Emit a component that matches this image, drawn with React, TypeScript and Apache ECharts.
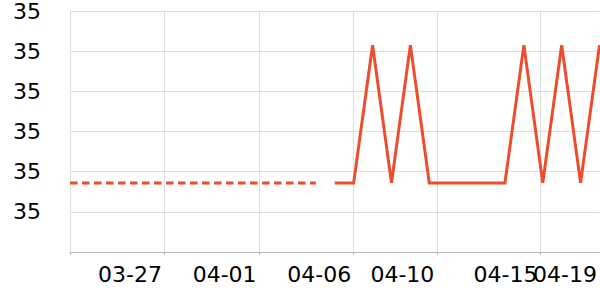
import React, { useEffect, useRef } from "react";
import * as echarts from "echarts";

const year = 2024;
const dayLabels = [
  "03-22", "03-23", "03-24", "03-25", "03-26", "03-27", "03-28", "03-29", "03-30", "03-31",
  "04-01", "04-02", "04-03", "04-04", "04-05", "04-06", "04-07", "04-08", "04-09", "04-10",
  "04-11", "04-12", "04-13", "04-14", "04-15", "04-16", "04-17", "04-18", "04-19",
];
// dashed part (first 14 days)
const dashedValues = [
  34.872, 34.872, 34.872, 34.872, 34.872, 34.872, 34.872,
  34.872, 34.872, 34.872, 34.872, 34.872, 34.872, 34.872,
];
// solid part (last 15 days)
const solidValues = [
  34.872, 34.872, 35.215, 34.872, 35.215, 34.872, 34.872, 34.872,
  34.872, 34.872, 35.215, 34.872, 35.215, 34.872, 35.215,
];
const xTickStamps = [
  "03-22T00:00", "03-27T00:00", "04-01T00:00", "04-06T00:00", "04-10T09:36", "04-15T20:24",
];
const xLabelStamps = [
  "03-27T00:00", "04-01T00:00", "04-06T00:00", "04-10T09:36", "04-15T20:24",
];
const xLastLabelStamps = ["04-19T00:00"];
const yMin = 34.7;
const yMax = 35.3;
const yStep = 0.1;

const ts = (s: string) => new Date(`${year}-${s}`).getTime();
const dayTs = (d: string) => ts(`${d}T00:00`);

export default function App() {
  const ref = useRef<HTMLDivElement>(null);
  useEffect(() => {
    document.body.style.margin = "0";
    const chart = echarts.init(ref.current!, null, { renderer: "svg" });
    const nDashed = dashedValues.length;
    const dashedData = dashedValues.map((v, i) => [dayTs(dayLabels[i]), v]);
    const solidData = solidValues.map((v, i) => [dayTs(dayLabels[nDashed + i]), v]);
    const font = "DejaVu Sans";
    const pad = (n: number) => (n < 10 ? "0" + n : "" + n);
    const fmt = (v: number) => {
      const d = new Date(v);
      return pad(d.getMonth() + 1) + "-" + pad(d.getDate());
    };
    const xMin = dayTs(dayLabels[0]);
    const xMax = dayTs(dayLabels[dayLabels.length - 1]);
    const labelBase = {
      fontSize: 22,
      fontFamily: font,
      color: "#000",
      align: "right",
      margin: 11,
      padding: [0, 2.5, 0, 0],
      hideOverlap: false,
      formatter: fmt,
    };
    chart.setOption({
      animation: false,
      grid: { left: 70, right: 0, top: 10, bottom: 48, containLabel: false },
      xAxis: [
        {
          type: "value",
          position: "bottom",
          scale: true,
          min: xMin,
          max: xMax,
          axisLine: { show: true, lineStyle: { color: "#b5b5b5", width: 1 } },
          axisTick: {
            show: true,
            length: 3,
            lineStyle: { color: "#b5b5b5" },
            customValues: xTickStamps.map(ts),
          },
          splitLine: { show: true, lineStyle: { color: "#dddddd", width: 1 } },
          axisLabel: { ...labelBase, customValues: xLabelStamps.map(ts) },
        },
        {
          type: "value",
          position: "bottom",
          scale: true,
          min: xMin,
          max: xMax,
          axisLine: { show: false },
          axisTick: { show: false },
          splitLine: { show: false },
          axisLabel: { ...labelBase, customValues: xLastLabelStamps.map(ts) },
        },
      ],
      yAxis: {
        type: "value",
        min: yMin,
        max: yMax,
        interval: yStep,
        axisLine: { show: false },
        axisTick: { show: false },
        splitLine: { show: true, lineStyle: { color: "#dddddd", width: 1 } },
        axisLabel: {
          showMinLabel: false,
          fontSize: 22,
          fontFamily: font,
          color: "#000",
          margin: 29,
          formatter: (v: number) => v.toFixed(0),
        },
      },
      series: [
        {
          type: "line",
          xAxisIndex: 0,
          data: dashedData,
          showSymbol: false,
          symbol: "none",
          lineStyle: { color: "#EE4D2D", width: 3, type: [7.5, 4.5], join: "miter" },
          itemStyle: { color: "#EE4D2D" },
        },
        {
          type: "line",
          xAxisIndex: 0,
          data: solidData,
          showSymbol: false,
          symbol: "none",
          lineStyle: { color: "#EE4D2D", width: 3, type: "solid", join: "miter" },
          itemStyle: { color: "#EE4D2D" },
        },
      ],
    });
    return () => chart.dispose();
  }, []);
  return <div ref={ref} style={{ width: 600, height: 300 }} />;
}
